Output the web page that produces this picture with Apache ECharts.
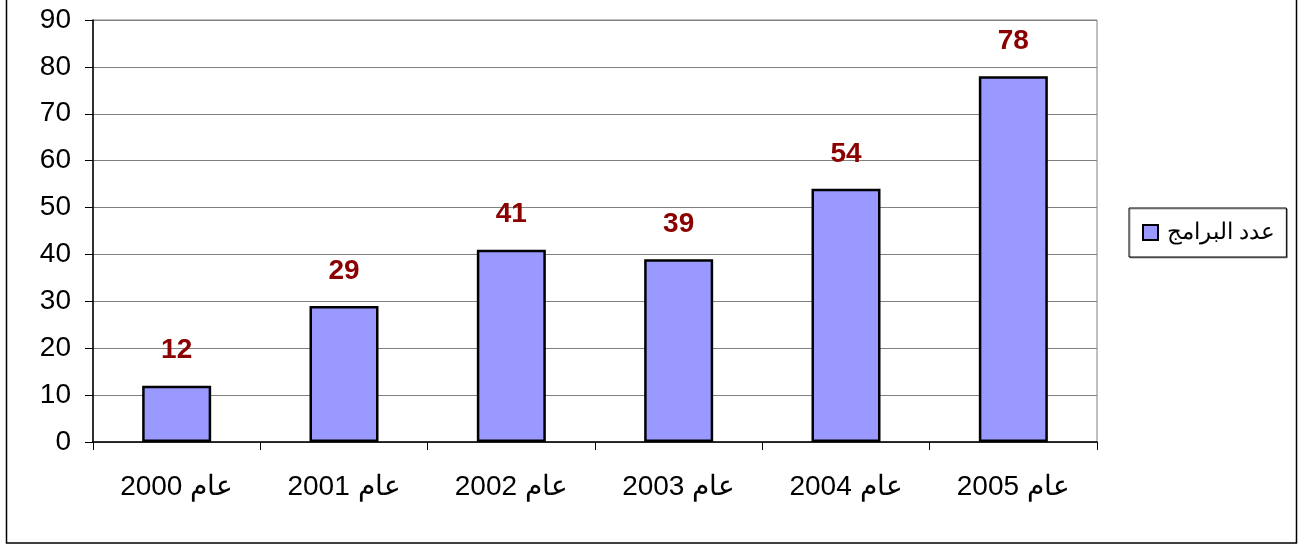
<!DOCTYPE html>
<html>
<head>
<meta charset="utf-8">
<script src="https://cdn.jsdelivr.net/npm/echarts@6/dist/echarts.min.js"></script>
<style>
  html, body { margin: 0; padding: 0; background: #fff; }
  #chart { width: 1303px; height: 545px; }
</style>
</head>
<body>
<div id="chart" dir="rtl"></div>
<script>
var years = ['عام 2000', 'عام 2001', 'عام 2002', 'عام 2003', 'عام 2004', 'عام 2005'];
var programCounts = [12, 29, 41, 39, 54, 78];
var seriesName = 'عدد البرامج';

var option = {
    backgroundColor: '#fff',
    animation: false,
    textStyle: { fontFamily: 'Arial, "Liberation Sans", sans-serif' },
    graphic: [
        {
            type: 'rect',
            shape: { x: 6.5, y: -2, width: 1290, height: 545 },
            style: { fill: 'none', stroke: '#000', lineWidth: 1.5 },
            silent: true
        }
    ],
    legend: {
        left: 1129,
        top: 208,
        orient: 'vertical',
        padding: [13, 11, 13, 13],
        borderColor: '#000',
        borderWidth: 1,
        shadowColor: 'rgba(0,0,0,0.35)',
        shadowOffsetX: 1,
        shadowOffsetY: 1,
        backgroundColor: '#fff',
        itemWidth: 15,
        itemHeight: 15,
        textStyle: { fontSize: 23, color: '#000', padding: [0, 0, 0, 4] },
        data: [{ name: seriesName, icon: 'rect' }]
    },
    grid: {
        left: 93,
        right: 206,
        top: 20,
        bottom: 103,
        show: true,
        borderColor: '#808080',
        borderWidth: 1
    },
    xAxis: {
        type: 'category',
        data: years,
        axisLine: { lineStyle: { color: '#000', width: 1.5 } },
        axisTick: { show: true, length: 8, alignWithLabel: false, interval: 0, lineStyle: { color: '#000' } },
        axisLabel: { interval: 0, margin: 31, fontSize: 28, color: '#000' }
    },
    yAxis: {
        type: 'value',
        min: 0,
        max: 90,
        interval: 10,
        axisLine: { show: true, lineStyle: { color: '#000', width: 1.5 } },
        axisTick: { show: true, length: 8, lineStyle: { color: '#000' } },
        axisLabel: { margin: 22, fontSize: 28, color: '#000' },
        splitLine: { lineStyle: { color: '#808080', width: 1 } }
    },
    series: [
        {
            name: seriesName,
            type: 'bar',
            data: programCounts,
            barWidth: 69,
            itemStyle: { color: '#9999FF', borderColor: '#000', borderWidth: 2.5 },
            label: {
                show: true,
                position: 'top',
                distance: 21,
                fontSize: 28,
                fontWeight: 'bold',
                color: '#8B0000'
            }
        }
    ]
};

var chart = echarts.init(document.getElementById('chart'));
chart.setOption(option);
</script>
</body>
</html>
